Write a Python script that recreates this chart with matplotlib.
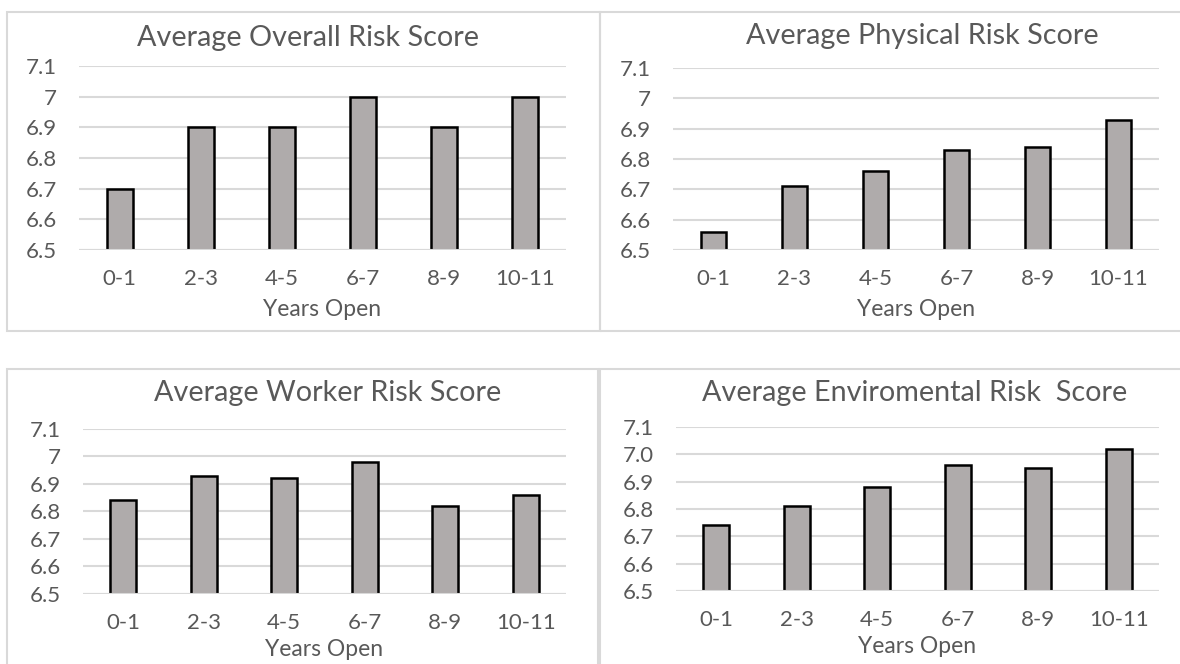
import matplotlib.pyplot as plt
from matplotlib.patches import Rectangle

plt.rcParams['font.family'] = ['Lato', 'DejaVu Sans']

years = ['0-1', '2-3', '4-5', '6-7', '8-9', '10-11']
overall = [6.7, 6.9, 6.9, 7.0, 6.9, 7.0]
physical = [6.56, 6.71, 6.76, 6.83, 6.84, 6.93]
worker = [6.84, 6.93, 6.92, 6.98, 6.82, 6.86]
environmental = [6.74, 6.81, 6.88, 6.96, 6.95, 7.02]

y_ticks = [6.5, 6.6, 6.7, 6.8, 6.9, 7.0, 7.1]
y_labels = ['6.5', '6.6', '6.7', '6.8', '6.9', '7', '7.1']
y_labels_env = ['6.5', '6.6', '6.7', '6.8', '6.9', '7.0', '7.1']

W, H = 1180, 664
TEXT = '#595959'
GRID = '#d9d9d9'
BAR = '#afabab'

fig = plt.figure(figsize=(W / 100, H / 100), dpi=100)


def px_rect(x0, y0, x1, y1):
    # pixel box (top-left origin) -> figure fraction [left, bottom, width, height]
    return [x0 / W, 1 - y1 / H, (x1 - x0) / W, (y1 - y0) / H]


# chart frames
for x0, y0, x1, y1 in [(7, 12, 600, 331), (600, 12, 1185, 331),
                       (7, 369, 598, 670), (600, 369, 1185, 670)]:
    l, b, w, h = px_rect(x0, y0, x1, y1)
    fig.patches.append(Rectangle((l, b), w, h, transform=fig.transFigure,
                                 fill=False, edgecolor=GRID, lw=1.5))

panels = [
    ('Average Overall Risk Score', overall, y_labels, (79, 66, 566, 250), (308, 38), 7),
    ('Average Physical Risk Score', physical, y_labels, (673, 68, 1159, 250), (922, 36), 7),
    ('Average Worker Risk Score', worker, y_labels, (83, 429, 566, 594), (328, 393), 4),
    ('Average Enviromental Risk  Score', environmental, y_labels_env,
     (676, 427, 1159, 591), (915, 393), 4),
]

for title, values, ylabels, box, tpos, lpad in panels:
    ax = fig.add_axes(px_rect(*box))
    x = range(len(years))
    ax.bar(x, [v - 6.5 for v in values], bottom=6.5, width=0.32,
           color=BAR, edgecolor='black', linewidth=1.8, zorder=2)
    ax.axhline(6.5, color=GRID, lw=1.5, zorder=3)
    ax.set_ylim(6.5, 7.1)
    ax.set_xlim(-0.5, len(years) - 0.5)
    ax.set_yticks(y_ticks)
    ax.set_yticklabels(ylabels)
    ax.set_xticks(list(x))
    ax.set_xticklabels(years)
    ax.grid(axis='y', color=GRID, lw=1.5, zorder=0)
    ax.set_axisbelow(True)
    for s in ax.spines.values():
        s.set_visible(False)
    ax.tick_params(axis='both', length=0, labelsize=16, labelcolor=TEXT)
    ax.tick_params(axis='y', pad=16)
    ax.tick_params(axis='x', pad=14)
    ax.set_xlabel('Years Open', fontsize=16.5, color=TEXT, labelpad=lpad)
    fig.text(tpos[0] / W, 1 - tpos[1] / H, title, fontsize=20.7, color=TEXT,
             ha='center', va='center')

fig.savefig('out.png', dpi=100)
